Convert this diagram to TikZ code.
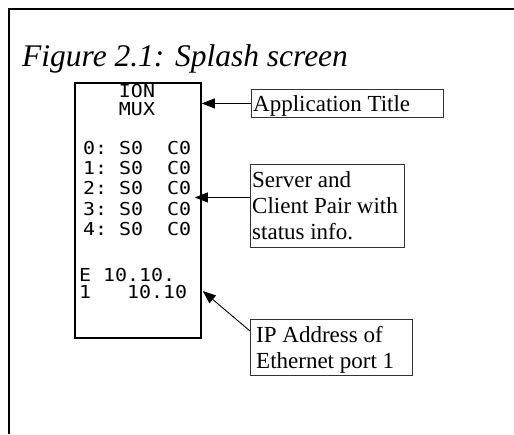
\documentclass[tikz,border=0pt]{standalone}
\usepackage{fontspec}
\setmainfont{Liberation Serif}
\newfontfamily\lcdfont{DejaVu Sans Mono}[FakeStretch=1.12]
\usetikzlibrary{arrows.meta,calc}
\tikzset{
  lbox/.style={draw=black!80, line width=0.9pt, anchor=north west, inner sep=0pt},
  ltext/.style={anchor=base west, inner sep=0pt, font=\fontsize{23}{26}\selectfont},
  lcd/.style={anchor=base west, inner sep=0pt, font=\lcdfont\fontsize{17.8}{20}\selectfont},
  pointer/.style={line width=0.9pt, -{Triangle[length=13pt,width=10pt]}},
}
\begin{document}
\begin{tikzpicture}[x=1pt,y=-1pt]
\useasboundingbox (0,0) rectangle (514,434);
\draw[line width=1.2pt] (9,434) -- (9,9) -- (514,9);
\node[anchor=base west, inner sep=0pt, font=\itshape\fontsize{31.5}{36}\selectfont] (title) at (22,66) {Figure 2.1: Splash screen};
% screen
\node[draw, line width=1.8pt, anchor=north west, minimum width=126pt, minimum height=255pt, inner sep=0pt] (scr) at (74,82) {};
\node[lcd, anchor=base] (l1) at (137,97) {ION};
\node[lcd, anchor=base] (l2) at (137,115) {MUX};
\node[lcd] (r0) at (83,154) {0:\ S0\ \ C0};
\node[lcd] (r1) at (83,174) {1:\ S0\ \ C0};
\node[lcd] (r2) at (83,194) {2:\ S0\ \ C0};
\node[lcd] (r3) at (83,215) {3:\ S0\ \ C0};
\node[lcd] (r4) at (83,235) {4:\ S0\ \ C0};
\node[lcd, align=left, font=\lcdfont\fontsize{17.8}{16.5}\selectfont] (eth) at (79,298) {E\ 10.10.\\1\ \ \ 10.10};
% label boxes
\node[lbox, minimum width=192pt, minimum height=28pt] (app) at (251,89) {};
\node[ltext] (appt) at (253,111) {Application Title};
\node[lbox, minimum width=154pt, minimum height=83pt] (srv) at (250,164) {};
\node[ltext] (s1) at (252,187) {Server and};
\node[ltext] (s2) at (252,213) {Client Pair with};
\node[ltext] (s3) at (252,239) {status info.};
\node[lbox, minimum width=162pt, minimum height=56pt] (ip) at (250,319) {};
\node[ltext] (i1) at (256,342) {IP Address of};
\node[ltext] (i2) at (256,368) {Ethernet port 1};
% pointers
\coordinate (srcS) at ($(srv.west)+(0,-8.5)$);
\coordinate (srcI) at ($(ip.north west)+(0,12)$);
\coordinate (tipA) at (app.west -| scr.east);
\coordinate (tipS) at ($(srcS -| scr.east)+(-7,0)$);
\coordinate (tipI) at ($(scr.east |- 0,291)+(1,0)$);
\draw[pointer] (app.west) -- (tipA);
\draw[pointer] (srcS) -- (tipS);
\draw[pointer] (srcI) -- (tipI);
\end{tikzpicture}
\end{document}
